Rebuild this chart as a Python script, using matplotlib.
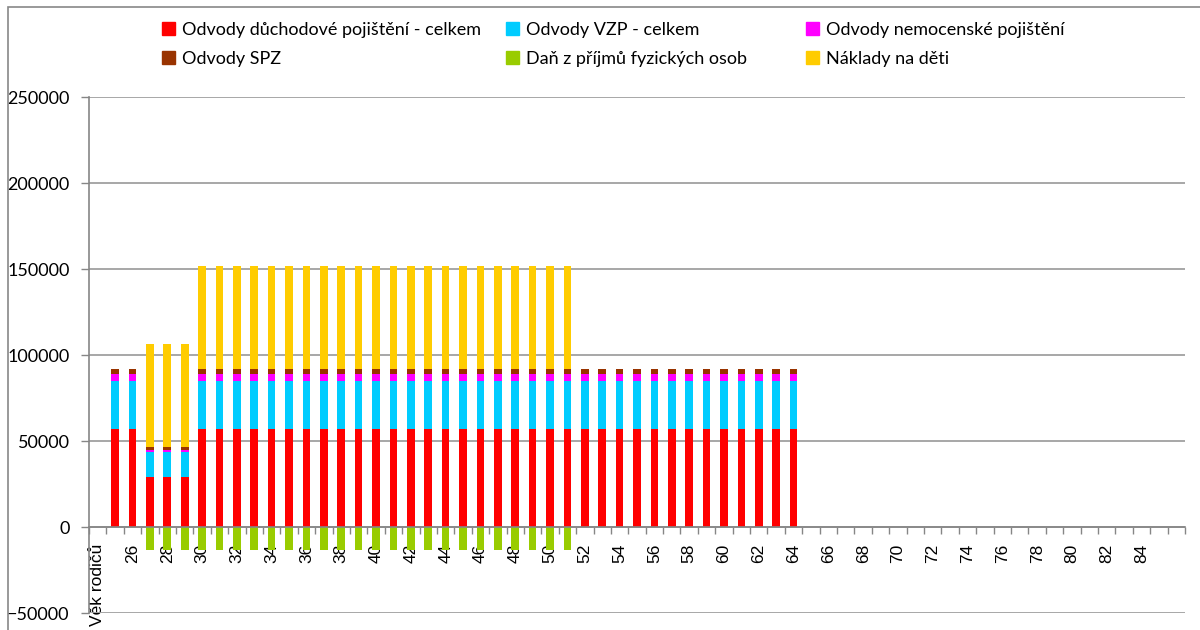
import numpy as np
import matplotlib.pyplot as plt
from matplotlib.patches import Patch, Rectangle


# ages 25..86, first category is the axis caption
ages = list(range(25, 87))
categories = ["Věk rodičů"] + [str(a) for a in ages]

# values per age (25..86)
duchodove = [57100] * 2 + [28800] * 3 + [57100] * 35 + [0] * 22
vzp = [27700] * 2 + [14600] * 3 + [27700] * 35 + [0] * 22
nemocenske = [4200] * 2 + [1200] * 3 + [4200] * 35 + [0] * 22
spz = [2700] * 2 + [1700] * 3 + [2700] * 35 + [0] * 22
dan = [0] * 2 + [-13300] * 25 + [0] * 35
deti = [0] * 2 + [60000] * 25 + [0] * 35

series_names = [
    "Odvody důchodové pojištění - celkem",
    "Odvody VZP - celkem",
    "Odvody nemocenské pojištění",
    "Odvody SPZ",
    "Daň z příjmů fyzických osob",
    "Náklady na děti",
]
colors = ["#FF0000", "#00CCFF", "#FF00FF", "#993300", "#99CC00", "#FFCC00"]

fig = plt.figure(figsize=(12, 6.3), dpi=100)
ax = fig.add_axes([89 / 1200, 1 - 613 / 630, (1185 - 89) / 1200, (613 - 97) / 630])

x = np.arange(1, len(ages) + 1)
width = 0.44
bottom = np.zeros(len(ages))
stack = [duchodove, vzp, nemocenske, spz]
for vals, col in zip(stack, colors[:4]):
    ax.bar(x, vals, width, bottom=bottom, color=col, zorder=3)
    bottom = bottom + np.array(vals)
ax.bar(x, deti, width, bottom=np.where(np.array(deti) > 0, bottom, 0),
       color=colors[5], zorder=3)
ax.bar(x, dan, width, color=colors[4], zorder=3)

ax.set_xlim(-0.5, len(categories) - 0.5)
ax.set_ylim(-50000, 250000)
ax.set_yticks(np.arange(-50000, 250001, 50000))
ax.yaxis.grid(True, color="#A0A0A0", linewidth=1.3, zorder=0)
ax.set_axisbelow(True)

for s in ["top", "right"]:
    ax.spines[s].set_visible(False)
ax.spines["bottom"].set_position(("data", 0))
ax.spines["bottom"].set_zorder(4)
for s in ["left", "bottom"]:
    ax.spines[s].set_color("#868686")
    ax.spines[s].set_linewidth(1.2)

# labels at even positions, tick marks at category boundaries
pos = np.arange(len(categories))
labels = [c if i % 2 == 0 else "" for i, c in enumerate(categories)]
labels[-1] = ""
ax.set_xticks(pos)
ax.set_xticklabels(labels, rotation=90, ha="center", va="top",
                   fontfamily="Liberation Sans", fontsize=12.5)
ax.set_xticks(np.arange(-0.5, len(categories)), minor=True)
ax.tick_params(axis="x", which="major", length=0, pad=12)
ax.tick_params(axis="x", which="minor", length=5, color="#868686", width=1)
ax.tick_params(axis="y", length=6, color="#868686", width=1, pad=8)
for t in ax.get_yticklabels():
    t.set_fontfamily("Lato")
    t.set_fontsize(13)

# legend in three columns, two rows
handles = [Patch(color=c, label=n) for c, n in zip(colors, series_names)]
col_x = [162, 506, 806]
for i, cx in enumerate(col_x):
    fig.legend(handles=[handles[i], handles[i + 3]], loc="upper left",
               bbox_to_anchor=(cx / 1200, 1 - 22 / 630), frameon=False,
               prop={"family": "Lato", "size": 13}, borderpad=0,
               borderaxespad=0, handlelength=0.7, handleheight=0.7,
               handletextpad=0.4, labelspacing=0.72)

# chart area border
fig.add_artist(Rectangle((8 / 1200, -0.1), 1.2, 1.1 - 7 / 630,
                         transform=fig.transFigure, fill=False,
                         edgecolor="#878787", linewidth=1.2))

fig.savefig("out.png", dpi=100)
